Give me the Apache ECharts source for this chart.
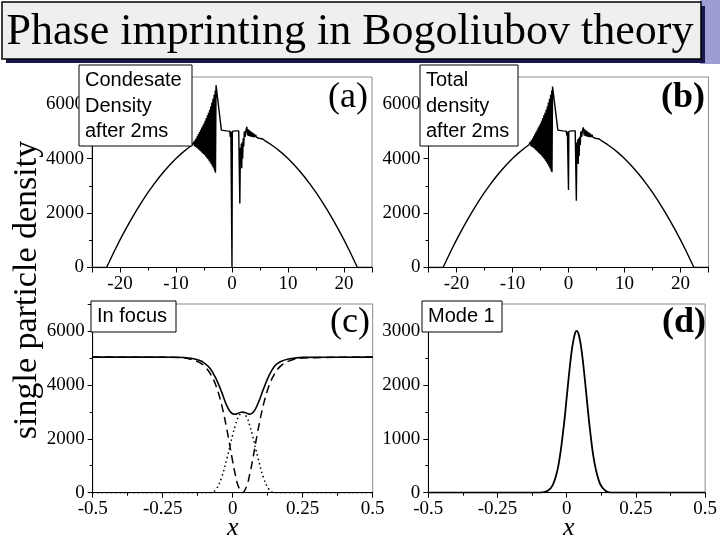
<!DOCTYPE html>
<html><head><meta charset="utf-8">
<script src="https://cdn.jsdelivr.net/npm/echarts@6/dist/echarts.min.js"></script>
<style>html,body{margin:0;padding:0;background:#fff}#c{width:720px;height:540px}</style>
</head><body><div id="c"></div><script>
// ---- Panel (a): condensate density after 2ms ----
const aX = [-25,-22.4,-21,-20,-19,-18,-17,-16,-15,-14,-13,-12,-11,-10,-9,-8,-7.1,
  -7.0,-6.9,-6.8,-6.7,-6.6,-6.5,-6.4,-6.3,-6.2,-6.1,-6.0,-5.9,-5.8,-5.7,-5.6,-5.5,-5.4,-5.3,-5.2,-5.1,
  -5.0,-4.9,-4.8,-4.7,-4.6,-4.5,-4.4,-4.3,-4.2,-4.1,-4.0,-3.9,-3.8,-3.7,-3.6,-3.5,-3.4,-3.3,-3.2,-3.1,
  -3.0,-2.95,-2.85,-1.9,-1.0,-0.4,-0.3,-0.2,-0.05,0,0.06,0.6,1.2,1.4,1.5,1.58,1.66,1.74,1.82,1.9,2.0,2.1,
  2.2,2.35,2.5,2.65,2.8,2.9,3.0,3.1,3.2,3.3,3.4,3.5,3.6,3.7,3.8,3.9,4.0,4.2,4.4,4.6,4.8,5.0,5.5,6,7,8,9,
  10,11,12,13,14,15,16,17,18,19,20,21,22.4,25];
const aY = [0,0,606,1014,1403,1771,2120,2449,2758,3047,3316,3565,3794,4004,4193,4362,4500,
  4560,4480,4620,4460,4680,4430,4750,4400,4820,4370,4900,4330,4980,4290,5060,4250,5140,4210,5220,4170,
  5300,4130,5390,4080,5490,4030,5590,3980,5690,3920,5800,3860,5920,3790,6060,3720,6200,3640,6350,3550,
  6500,3480,6700,5050,5020,5010,4800,5000,5000,0,5000,5020,5020,2350,4400,3800,4550,3650,4600,4000,4750,4450,
  5000,4800,5050,5170,4850,5080,4830,5040,4820,5010,4810,4980,4800,4950,4790,4920,4790,4880,4780,4830,4750,4780,4720,4641,4512,4362,4193,
  4004,3794,3565,3316,3047,2758,2449,2120,1771,1403,1014,606,0,0];

// ---- Panel (b): total density after 2ms ----
const bX = aX;
const bY = [0,0,606,1014,1403,1771,2120,2449,2758,3047,3316,3565,3794,4004,4193,4362,4500,
  4560,4480,4620,4460,4680,4430,4750,4400,4820,4370,4900,4330,4980,4290,5060,4250,5140,4210,5220,4170,
  5300,4130,5390,4080,5490,4030,5590,3980,5690,3920,5800,3860,5920,3790,6060,3720,6200,3640,6350,3550,
  6500,3500,6650,5050,5020,5010,4850,5000,5000,2850,5000,5020,5020,2450,4600,3900,4700,3800,4750,4100,4800,4500,
  5000,4800,5050,5150,4850,5080,4830,5040,4820,5010,4810,4980,4800,4950,4790,4920,4790,4880,4780,4830,4750,4780,4720,4641,4512,4362,4193,
  4004,3794,3565,3316,3047,2758,2449,2120,1771,1403,1014,606,0,0];

// ---- Panel (c): in focus ----
const cSX = [-0.5,-0.2,-0.15,-0.12,-0.1,-0.08,-0.06,-0.04,-0.02,-0.005,0.008,0.02,0.035,0.05,0.062,0.075,0.09,0.11,0.13,0.15,0.17,0.2,0.25,0.5];
const cSY = [5030,5025,4990,4910,4800,4600,4240,3750,3200,2960,2910,2950,2995,2950,2910,3000,3300,3850,4350,4700,4860,4960,5020,5030];
const cDX = [-0.5,-0.2,-0.15,-0.12,-0.1,-0.08,-0.06,-0.04,-0.02,0,0.01,0.02,0.035,0.05,0.06,0.07,0.09,0.11,0.13,0.15,0.17,0.2,0.25,0.5];
const cDY = [5030,5020,4950,4835,4685,4415,3975,3275,2300,1155,640,244,0,244,640,1155,2300,3275,3975,4415,4685,4880,4997,5030];
const cPX = [-0.5,-0.08,-0.06,-0.04,-0.02,0,0.01,0.02,0.035,0.05,0.06,0.07,0.09,0.11,0.13,0.15,0.5];
const cPY = [0,0,120,560,1300,2150,2520,2800,2980,2800,2520,2150,1300,560,120,0,0];

// ---- Panel (d): mode 1 ----
const dX = [-0.5,-0.1,-0.09,-0.07,-0.05,-0.03,-0.01,0,0.01,0.02,0.03,0.036,0.045,0.055,0.065,0.075,0.085,0.1,0.12,0.14,0.16,0.5];
const dY = [0,0,5,30,146,507,1264,1767,2276,2702,2956,3000,2902,2588,2128,1612,1126,564,168,36,0,0];

// tick / text content
const titleText = 'Phase imprinting in Bogoliubov theory';
const yTitle = 'single particle density';
const boxTexts = [['Condesate','Density','after 2ms'],['Total','density','after 2ms'],['In focus'],['Mode 1']];
const panelTags = ['(a)','(b)','(c)','(d)'];

const zip = (xs, ys) => xs.map((x, i) => [x, ys[i]]);
const SERIF = '"Liberation Serif","Times New Roman",serif';
const SANS = '"Liberation Sans",Arial,sans-serif';

const grids = [
  {left: 92, top: 77, width: 280, height: 190.5},
  {left: 428.5, top: 77, width: 280, height: 190.5},
  {left: 92.7, top: 304, width: 280, height: 188.7},
  {left: 428.3, top: 304, width: 281, height: 188.7}
].map(g => Object.assign(g, {show: true, borderColor: '#8a8a8a', borderWidth: 1, backgroundColor: 'transparent'}));

function axisBase() {
  return {
    type: 'value',
    axisLine: {show: true, onZero: false, lineStyle: {color: '#000', width: 1}},
    axisTick: {show: true, length: 5, lineStyle: {color: '#000'}},
    minorTick: {show: true, splitNumber: 2, length: 3, lineStyle: {color: '#000'}},
    splitLine: {show: false},
    axisLabel: {fontFamily: SERIF, fontSize: 19, color: '#000', margin: 7, formatter: v => String(v)}
  };
}
const xAxes = [
  Object.assign(axisBase(), {gridIndex: 0, min: -25, max: 25, splitNumber: 5}),
  Object.assign(axisBase(), {gridIndex: 1, min: -25, max: 25, splitNumber: 5}),
  Object.assign(axisBase(), {gridIndex: 2, min: -0.5, max: 0.5, interval: 0.25}),
  Object.assign(axisBase(), {gridIndex: 3, min: -0.5, max: 0.5, interval: 0.25})
];
xAxes[0].axisLabel.showMinLabel = false; xAxes[0].axisLabel.showMaxLabel = false;
xAxes[1].axisLabel.showMinLabel = false; xAxes[1].axisLabel.showMaxLabel = false;
const yAxes = [
  Object.assign(axisBase(), {gridIndex: 0, min: 0, max: 7000, interval: 2000}),
  Object.assign(axisBase(), {gridIndex: 1, min: 0, max: 7000, interval: 2000}),
  Object.assign(axisBase(), {gridIndex: 2, min: 0, max: 7000, interval: 2000}),
  Object.assign(axisBase(), {gridIndex: 3, min: 0, max: 3500, interval: 1000})
];
yAxes.forEach(a => { a.axisLabel.showMaxLabel = false; a.axisLabel.margin = 8; });

const lineS = (xi, data, extra) => Object.assign({
  type: 'line', xAxisIndex: xi, yAxisIndex: xi, data: data, showSymbol: false, symbol: 'none',
  animation: false, lineStyle: {color: '#000', width: 1.4}, z: 3
}, extra || {});

const series = [
  lineS(0, zip(aX, aY)),
  lineS(1, zip(bX, bY)),
  lineS(2, zip(cPX, cPY), {smooth: 0.4, lineStyle: {color: '#000', width: 1.5, type: [1.5, 3]}}),
  lineS(2, zip(cDX, cDY), {smooth: 0.4, lineStyle: {color: '#000', width: 1.5, type: [8, 5]}}),
  lineS(2, zip(cSX, cSY), {smooth: 0.4, lineStyle: {color: '#000', width: 1.6}}),
  lineS(3, zip(dX, dY), {smooth: 0.4, lineStyle: {color: '#000', width: 1.8}})
];

const graphic = [
  {type: 'rect', shape: {x: 700, y: 0, width: 20, height: 64}, style: {fill: '#9d9dd6'}, z: 1},
  {type: 'rect', shape: {x: 6, y: 6, width: 699, height: 57}, style: {fill: '#17174a'}, z: 2},
  {type: 'rect', shape: {x: 2, y: 2, width: 699, height: 57}, style: {fill: '#efefef', stroke: '#000', lineWidth: 1.5}, z: 3},
  {type: 'text', x: 350, y: 32, z: 4, style: {text: titleText, font: '44px ' + SERIF, fill: '#000', align: 'center', verticalAlign: 'middle'}},
  {type: 'text', x: 27, y: 290, rotation: Math.PI / 2, z: 4, style: {text: yTitle, font: '34px ' + SERIF, fill: '#000', align: 'center', verticalAlign: 'middle'}},
  {type: 'text', x: 232.7, y: 528, z: 4, style: {text: 'x', font: 'italic 26px ' + SERIF, fill: '#000', align: 'center', verticalAlign: 'middle'}},
  {type: 'text', x: 568.8, y: 528, z: 4, style: {text: 'x', font: 'italic 26px ' + SERIF, fill: '#000', align: 'center', verticalAlign: 'middle'}},
  {type: 'text', x: 368, y: 98, z: 10, style: {text: panelTags[0], font: '36px ' + SERIF, fill: '#000', align: 'right', verticalAlign: 'middle'}},
  {type: 'text', x: 705, y: 98, z: 10, style: {text: panelTags[1], font: 'bold 36px ' + SERIF, fill: '#000', align: 'right', verticalAlign: 'middle'}},
  {type: 'text', x: 370, y: 323, z: 10, style: {text: panelTags[2], font: '36px ' + SERIF, fill: '#000', align: 'right', verticalAlign: 'middle'}},
  {type: 'text', x: 706, y: 323, z: 10, style: {text: panelTags[3], font: 'bold 36px ' + SERIF, fill: '#000', align: 'right', verticalAlign: 'middle'}}
];
const boxes = [
  {x: 79, y: 65, w: 113, h: 81},
  {x: 420, y: 65, w: 98, h: 81},
  {x: 91, y: 301, w: 85, h: 31},
  {x: 422, y: 301, w: 80, h: 31}
];
boxes.forEach((b, i) => {
  graphic.push({type: 'rect', shape: {x: b.x, y: b.y, width: b.w, height: b.h}, style: {fill: '#fff', stroke: '#000', lineWidth: 1}, z: 20});
  boxTexts[i].forEach((t, j) => {
    graphic.push({type: 'text', x: b.x + 6, y: b.y + 15.5 + j * 25.5, z: 21,
      style: {text: t, font: '20px ' + SANS, fill: '#000', align: 'left', verticalAlign: 'middle'}});
  });
});

const chart = echarts.init(document.getElementById('c'), null, {renderer: 'canvas'});
chart.setOption({
  animation: false,
  backgroundColor: '#fff',
  grid: grids,
  xAxis: xAxes,
  yAxis: yAxes,
  series: series,
  graphic: graphic
});
</script></body></html>
